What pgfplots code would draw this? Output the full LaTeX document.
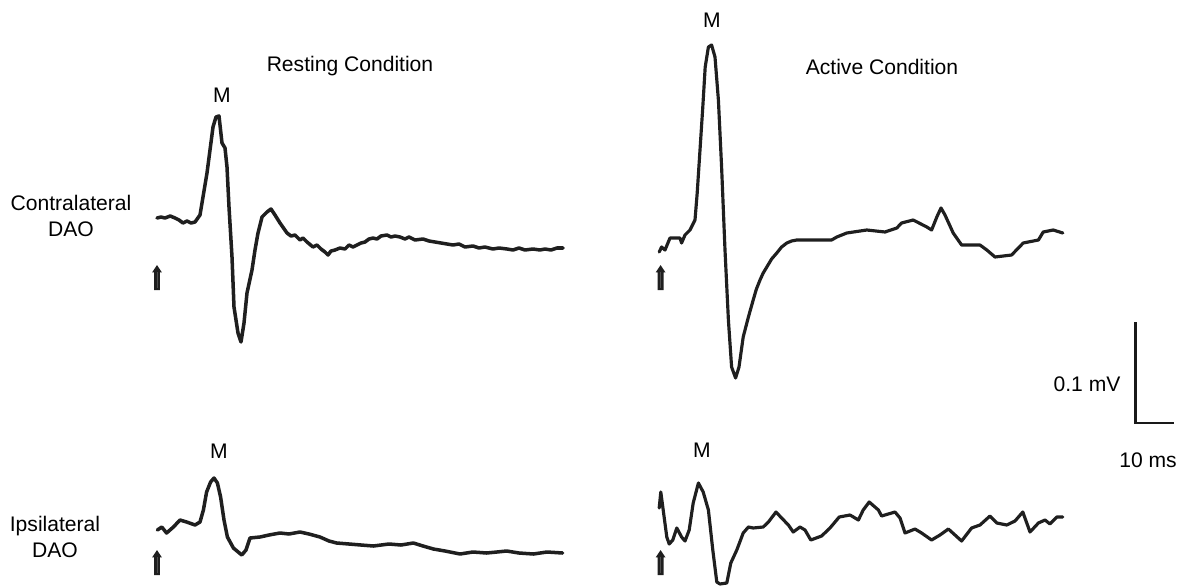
\documentclass[border=0pt]{standalone}
\usepackage{fontspec}
\setmainfont{Liberation Sans}
\usepackage{pgfplots}
\usepackage{pgfplotstable}
\pgfplotsset{compat=1.18}

% Evoked responses: time after stimulus (ms), amplitude relative to pre-stimulus level (uV)
\pgfplotstableread{
t uv
0 0
1 1
2 0
3.3 2
4.5 0
5.5 -2
6.5 -5
7.5 -3
8.5 -5
9.5 -4
10.75 3
11.5 21
12.5 45
13.25 68
14 91
14.75 101
15.5 102
16.25 75
17 70
17.5 51
18 11
18.75 -39
19.25 -89
20.25 -115
21 -124
21.75 -105
22.5 -75
23.75 -52
24.5 -32
25.25 -15
26.25 1
27.5 6
28.5 9
29.5 3
30.75 -5
32.5 -15
33.5 -18
34.5 -17
35.75 -22
36.5 -20
37.5 -24
39 -29
40 -27
41 -31
42 -34
42.75 -37
43.5 -33
44.5 -32
45.75 -30
47 -31
48 -27
49 -29
50 -27
51 -25
52 -24
53 -21
54 -20
55 -21
56 -18
57.5 -17
58.5 -19
59.5 -18
60.75 -19
62 -21
63 -19
64.5 -22
66.5 -21
68 -23
69.5 -24
71 -25
72.5 -26
74 -27
75.5 -26
77 -29
79 -28
80.5 -30
82 -29
84 -31
85.5 -30
87.5 -31
89 -32
90.5 -30
92 -32
94 -31
95.75 -32
97 -31
98.5 -32
100 -30
101.5 -30
}\contraRest

\pgfplotstableread{
t uv
0.3 -2
0.9 3
1.75 0
3 12
5.5 12
5.9 7
6.75 15
8 20
9.25 30
9.8 57
10.5 100
11.2 143
11.8 183
12.6 203
13.4 205
14.25 193
15.1 150
15.9 83
16.75 0
17.6 -70
18.4 -117
19.4 -128
20.25 -117
21.3 -87
22.6 -67
23.8 -50
24.6 -39
25.5 -30
26.3 -23
27.2 -17
28.4 -9
29.7 -3
30.9 3
32.2 7
33.4 9
34.7 10
43.4 10
44.7 13
47.2 17
52.2 20
56.75 18
59.7 22
60.9 27
63.8 30
67.2 23
68.4 20
69.7 33
70.75 42
71.75 35
73.8 17
75.9 5
80.5 5
82.2 0
84.25 -7
88.4 -5
91.3 7
95.1 10
96.3 18
98.8 20
101.2 17
}\contraActive

\pgfplotstableread{
t uv
0.1 0
1.2 3
2.4 -3
4.1 3
5.75 10
7.4 8
9.5 5
10.75 8
11.6 20
12.4 38
13.4 48
14.25 52
15.1 47
15.9 33
16.75 10
17.6 -7
19.1 -18
21.2 -25
22.25 -20
23.25 -8
25.75 -7
28 -5
30.75 -3
33 -4
35.75 -2
38 -4
40.75 -7
43 -11
44.9 -13
48 -14
51 -15
54.1 -16
58 -14
61 -15
64.1 -13
66.5 -16
69.1 -19
72 -21
75.75 -24
79 -22
82.4 -23
85 -22
87.4 -21
90.5 -23
94.1 -24
97.5 -22
101.4 -23
}\ipsiRest

\pgfplotstableread{
t uv
0.3 22
0.7 38
1.3 20
2.2 -7
2.8 -14
3.7 -10
4.7 2
5.9 -7
6.75 -11
7.8 0
8.8 27
10.1 47
11.3 38
12.6 20
13.7 -20
14.7 -52
15.5 -54
17.2 -53
18.2 -33
19.7 -20
21.3 -3
22.6 3
23.8 2
26.3 3
27.6 8
29.5 18
30.9 12
32.6 5
33.8 -2
35.5 3
36.75 0
38.2 -10
40.9 -6
43 2
45.3 13
48 15
50.1 10
51.3 20
52.8 28
55.1 20
55.9 14
59.25 18
60.5 12
61.75 -3
64.25 1
65.9 -3
68.4 -10
70.5 -5
72.6 1
74.25 -5
75.9 -11
78.4 2
80.5 5
83 14
84.7 7
87.2 5
89.25 9
91.2 18
93 -2
95.1 7
96.75 10
98 6
99.7 13
101.2 13
}\ipsiActive

% stimulus marker: a bold upward arrow whose foot sits at the named point
\newcommand{\stim}[1]{%
  \begin{scope}[shift={(#1)}]
    \fill[black!88] (-0.85pt,0) -- (0.85pt,0) -- (0.85pt,5pt) -- (1.4pt,5pt)
      -- (0,7.1pt) -- (-1.4pt,5pt) -- (-0.85pt,5pt) -- cycle;
    \draw[black!70, line width=0.18pt] (0,0.5pt) -- (0,5pt);
  \end{scope}}

\begin{document}
\begin{tikzpicture}
\begin{axis}[
  at={(0,0)}, anchor=south west,
  width=11.83cm, height=5.85cm, scale only axis,
  xmin=-39.25, xmax=256.5, ymin=0, ymax=585,
  hide axis, clip=false,
  trace/.style={black!88, line width=0.9pt, line join=round, line cap=round, mark=none},
  font=\fontsize{6}{7.2}\selectfont,
]
% contralateral DAO, resting and active
\addplot[trace, line width=1pt] table[x=t, y expr=\thisrow{uv}+367] {\contraRest};
\addplot[trace] table[x expr=\thisrow{t}+125.25, y expr=\thisrow{uv}+335] {\contraActive};
% ipsilateral DAO, resting and active
\addplot[trace, line width=1pt] table[x=t, y expr=\thisrow{uv}+55] {\ipsiRest};
\addplot[trace] table[x expr=\thisrow{t}+125.25, y expr=\thisrow{uv}+55] {\ipsiActive};

% calibration bar: 0.1 mV by 10 ms
\addplot[black!90, line width=0.85pt, line cap=butt, line join=miter, mark=none]
  coordinates {(244.5,263) (244.5,162) (254.3,162)};

% stimulus onsets
\coordinate (s1) at (axis cs:0,295);
\coordinate (s2) at (axis cs:125.9,295);
\coordinate (s3) at (axis cs:0,10);
\coordinate (s4) at (axis cs:125.9,10);

\node at (axis cs:48.25,519) {Resting Condition};
\node at (axis cs:181.25,518) {Active Condition};
\node at (axis cs:16.25,490) {M};
\node at (axis cs:138.75,565) {M};
\node at (axis cs:15.5,134) {M};
\node at (axis cs:136.25,135) {M};
\node[align=center] at (axis cs:-21.5,369) {Contralateral\\DAO};
\node[align=center] at (axis cs:-25.5,48) {Ipsilateral\\DAO};
\node at (axis cs:232.5,201) {0.1 mV};
\node at (axis cs:247.75,125) {10 ms};
\end{axis}
\stim{s1}
\stim{s2}
\stim{s3}
\stim{s4}
\pgfresetboundingbox
\path (0,0) rectangle (11.83cm,5.85cm);
\end{tikzpicture}
\end{document}
